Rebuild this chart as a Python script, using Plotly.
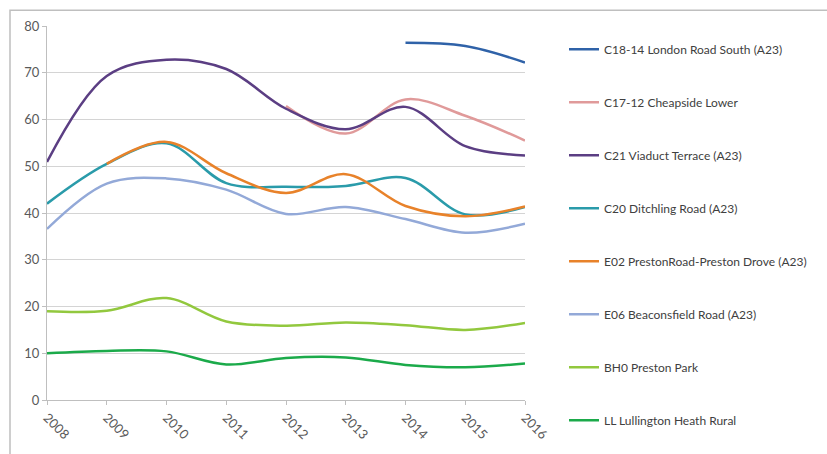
import plotly.graph_objects as go

years = [2008, 2009, 2010, 2011, 2012, 2013, 2014, 2015, 2016]

site_names = [
    "C18-14 London Road South (A23)",
    "C17-12 Cheapside Lower",
    "C21 Viaduct Terrace (A23)",
    "C20 Ditchling Road (A23)",
    "E02 PrestonRoad-Preston Drove (A23)",
    "E06 Beaconsfield Road (A23)",
    "BH0 Preston Park",
    "LL Lullington Heath Rural",
]

# Annual mean values (None = no monitoring that year)
london_road_south = [None, None, None, None, None, None, 76.4, 75.7, 72.2]
cheapside_lower = [None, None, None, None, 62.9, 57.0, 64.3, 60.8, 55.5]
viaduct_terrace = [50.9, 69.3, 72.8, 70.8, 62.3, 57.9, 62.7, 54.3, 52.3]
ditchling_road = [42.0, 50.5, 54.9, 46.4, 45.6, 45.8, 47.5, 39.7, 41.3]
preston_road = [None, 50.5, 55.2, 48.5, 44.3, 48.3, 41.5, 39.3, 41.4]
beaconsfield_road = [36.6, 46.3, 47.4, 45.0, 39.8, 41.3, 38.7, 35.8, 37.7]
preston_park = [19.0, 19.1, 21.8, 16.8, 15.9, 16.6, 16.0, 15.0, 16.5]
lullington_heath = [10.0, 10.5, 10.4, 7.6, 9.0, 9.1, 7.5, 7.0, 7.8]

series = [
    london_road_south, cheapside_lower, viaduct_terrace, ditchling_road,
    preston_road, beaconsfield_road, preston_park, lullington_heath,
]
colors = ["#2F62A8", "#E09A9A", "#5B3E83", "#2A9BAA",
          "#E8822A", "#93A9D8", "#92C83E", "#1BAA4A"]

fig = go.Figure()
for i, (name, vals, col) in enumerate(zip(site_names, series, colors)):
    fig.add_trace(go.Scatter(
        x=years, y=vals, name=name, mode="lines",
        line=dict(color=col, width=2.5, shape="spline", smoothing=1.0),
        legendgroup=f"g{i}", connectgaps=False,
    ))

axis_font = dict(family="Lato, 'Open Sans', sans-serif", size=13, color="#595959")

fig.update_layout(
    width=827, height=454,
    margin=dict(l=47, r=302, t=26, b=46),
    paper_bgcolor="white", plot_bgcolor="white",
    font=dict(family="Lato, 'Open Sans', sans-serif", color="#404040"),
    xaxis=dict(
        range=[2008, 2016], tickmode="array", tickvals=years,
        ticktext=[str(y) for y in years], tickangle=45,
        showgrid=False, zeroline=False, showline=True, linecolor="#BFBFBF",
        linewidth=1, ticks="outside", ticklen=4, tickcolor="#BFBFBF",
        tickfont=axis_font,
    ),
    yaxis=dict(
        range=[0, 80], dtick=10, showgrid=True, gridcolor="#D4D4D4",
        gridwidth=1, zeroline=False, showline=True, linecolor="#BFBFBF",
        linewidth=1, ticks="outside", ticklen=4, tickcolor="#BFBFBF",
        tickfont=axis_font,
    ),
    legend=dict(
        x=1.0816, xanchor="left", y=0.9765, yanchor="top",
        font=dict(family="Lato, 'Open Sans', sans-serif", size=12, color="#404040"),
        traceorder="grouped", tracegroupgap=34, itemwidth=30,
        bgcolor="rgba(0,0,0,0)", maxheight=440,
    ),
    showlegend=True,
    shapes=[dict(
        type="rect", xref="paper", yref="paper",
        x0=(10 - 47) / 478, x1=2.0, y0=-1.0, y1=(408 - 10) / 382,
        line=dict(color="#BFBFBF", width=1.5), fillcolor="rgba(0,0,0,0)",
        layer="below",
    )],
)

fig.write_html("out.html")
